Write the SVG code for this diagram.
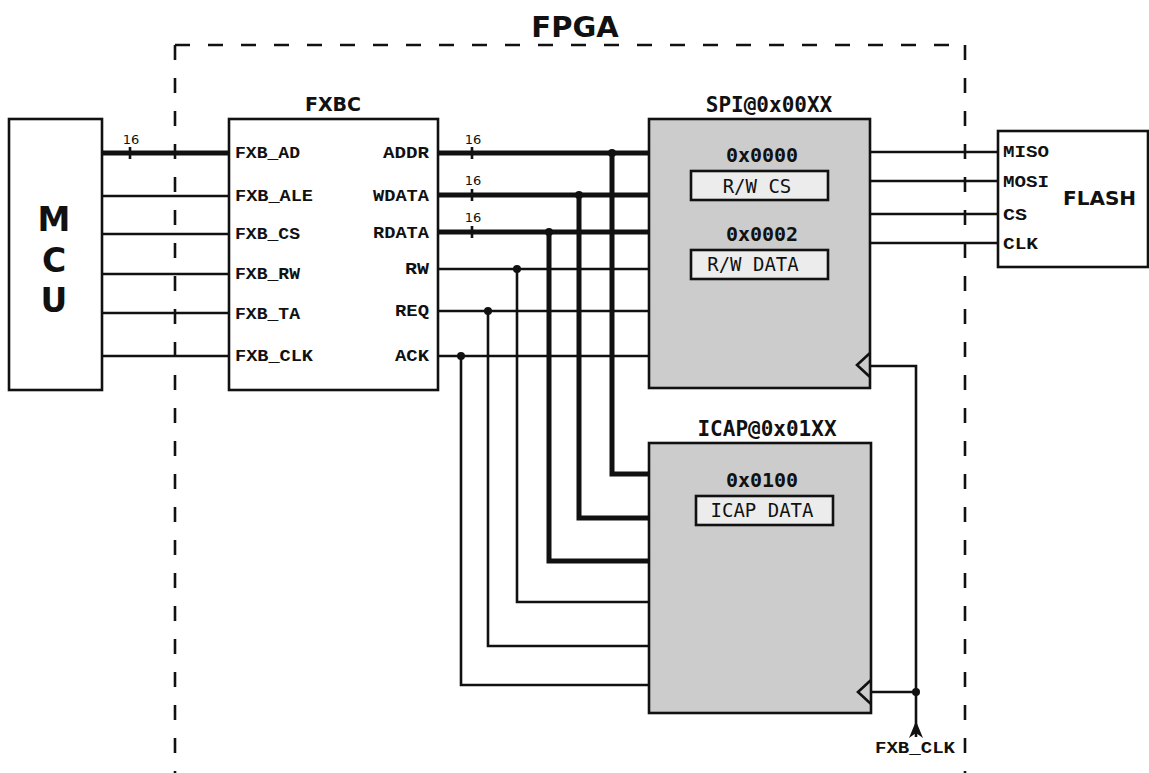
<svg xmlns="http://www.w3.org/2000/svg" width="1149" height="773" viewBox="0 0 1149 773">
<defs>
<style>
.box{fill:#fff;stroke:#111;stroke-width:2.6}
.blk{fill:#ccc;stroke:#111;stroke-width:2.6}
.reg{fill:#ececec;stroke:#111;stroke-width:2.6}
.w{fill:none;stroke:#111;stroke-width:2.6}
.bus{fill:none;stroke:#111;stroke-width:5}
.dash{fill:none;stroke:#111;stroke-width:2.6;stroke-dasharray:15 18}
.pin{font-family:"Liberation Mono",monospace;font-weight:bold;font-size:16px;fill:#111}
.title{font-family:"DejaVu Sans Mono",monospace;font-weight:bold;fill:#111}
.regt{font-family:"DejaVu Sans Mono",monospace;font-size:19px;fill:#111}
.big{font-family:"DejaVu Sans",sans-serif;font-weight:bold;fill:#111}
.num{font-family:"DejaVu Sans",sans-serif;font-size:13px;fill:#111}
.dot{fill:#111}
</style>
</defs>
<g id="fpga">
<path class="dash" d="M175,45 H965 M175,45 V773 M965,45 V773"/>
<text class="big" x="575" y="37" font-size="29" text-anchor="middle">FPGA</text>
</g>
<g id="mcu">
<rect class="box" x="9" y="119" width="93" height="271"/>
<text class="big" x="54" y="231" font-size="33" text-anchor="middle">M</text>
<text class="big" x="54" y="272" font-size="33" text-anchor="middle">C</text>
<text class="big" x="54" y="312" font-size="33" text-anchor="middle">U</text>
</g>
<g id="fxbc">
<rect class="box" x="229" y="119" width="209" height="271"/>
<text class="big" x="333" y="111" font-size="19" text-anchor="middle">FXBC</text>
<text class="pin" x="235" y="158" textLength="65" lengthAdjust="spacingAndGlyphs">FXB_AD</text>
<text class="pin" x="235" y="201" textLength="78" lengthAdjust="spacingAndGlyphs">FXB_ALE</text>
<text class="pin" x="235" y="239" textLength="65" lengthAdjust="spacingAndGlyphs">FXB_CS</text>
<text class="pin" x="235" y="279" textLength="65" lengthAdjust="spacingAndGlyphs">FXB_RW</text>
<text class="pin" x="235" y="319" textLength="65" lengthAdjust="spacingAndGlyphs">FXB_TA</text>
<text class="pin" x="235" y="361" textLength="78" lengthAdjust="spacingAndGlyphs">FXB_CLK</text>
<text class="pin" x="429" y="158" text-anchor="end" textLength="46" lengthAdjust="spacingAndGlyphs">ADDR</text>
<text class="pin" x="429" y="201" text-anchor="end" textLength="56" lengthAdjust="spacingAndGlyphs">WDATA</text>
<text class="pin" x="429" y="238" text-anchor="end" textLength="56" lengthAdjust="spacingAndGlyphs">RDATA</text>
<text class="pin" x="429" y="274" text-anchor="end" textLength="24" lengthAdjust="spacingAndGlyphs">RW</text>
<text class="pin" x="429" y="316" text-anchor="end" textLength="34" lengthAdjust="spacingAndGlyphs">REQ</text>
<text class="pin" x="429" y="361" text-anchor="end" textLength="34" lengthAdjust="spacingAndGlyphs">ACK</text>
</g>
<g id="spi">
<rect class="blk" x="649" y="119" width="221" height="269"/>
<text class="title" x="769" y="112" font-size="21" text-anchor="middle">SPI@0x00XX</text>
<text class="title" x="762" y="162" font-size="20" text-anchor="middle">0x0000</text>
<rect class="reg" x="691" y="171" width="137" height="29"/>
<text class="regt" x="757" y="193" text-anchor="middle">R/W CS</text>
<text class="title" x="762" y="241" font-size="20" text-anchor="middle">0x0002</text>
<rect class="reg" x="691" y="250" width="137" height="29"/>
<text class="regt" x="753" y="271" text-anchor="middle">R/W DATA</text>
<path class="w" d="M870,353 L857,365 L870,377"/>
</g>
<g id="icap">
<rect class="blk" x="649" y="443" width="222" height="270"/>
<text class="title" x="767" y="436" font-size="21" text-anchor="middle">ICAP@0x01XX</text>
<text class="title" x="762" y="487" font-size="20" text-anchor="middle">0x0100</text>
<rect class="reg" x="696" y="496" width="137" height="29"/>
<text class="regt" x="762" y="517" text-anchor="middle">ICAP DATA</text>
<path class="w" d="M871,680 L858,692 L871,704"/>
</g>
<g id="flash">
<rect class="box" x="998" y="131" width="150" height="136"/>
<text class="big" x="1063" y="205" font-size="20">FLASH</text>
<text class="pin" x="1003" y="157" textLength="46" lengthAdjust="spacingAndGlyphs">MISO</text>
<text class="pin" x="1003" y="187" textLength="46" lengthAdjust="spacingAndGlyphs">MOSI</text>
<text class="pin" x="1003" y="220" textLength="24" lengthAdjust="spacingAndGlyphs">CS</text>
<text class="pin" x="1003" y="249" textLength="35" lengthAdjust="spacingAndGlyphs">CLK</text>
</g>
<g id="connectors">
<path class="bus" d="M102,153 H229"/>
<path class="w" d="M102,196 H229 M102,234 H229 M102,274 H229 M102,313 H229 M102,356 H229"/>
<path class="w" d="M130,147 V159"/>
<text class="num" x="131" y="144" text-anchor="middle">16</text>
<path class="bus" d="M438,153 H649 M438,195 H649 M438,232 H649"/>
<path class="w" d="M438,269 H649 M438,311 H649 M438,356 H649"/>
<path class="w" d="M472,147 V159 M472,189 V201 M472,226 V238"/>
<text class="num" x="473" y="144" text-anchor="middle">16</text>
<text class="num" x="473" y="185" text-anchor="middle">16</text>
<text class="num" x="473" y="222" text-anchor="middle">16</text>
<path class="bus" d="M612,153 V474 H649 M579,195 V518 H649 M549,232 V561 H649"/>
<path class="w" d="M517,269 V602 H649 M488,311 V646 H649 M461,356 V685 H649"/>
<circle class="dot" cx="612" cy="153" r="4"/>
<circle class="dot" cx="579" cy="195" r="4"/>
<circle class="dot" cx="549" cy="232" r="4"/>
<circle class="dot" cx="517" cy="269" r="4"/>
<circle class="dot" cx="488" cy="311" r="4"/>
<circle class="dot" cx="461" cy="356" r="4"/>
<path class="w" d="M870,152 H998 M870,181 H998 M870,214 H998 M870,243 H998"/>
<path class="w" d="M870,366 H916 V692 H871"/>
<path class="w" d="M916,692 V737"/>
<path d="M916,721 L923,738 L916,733 L909,738 Z" fill="#111"/>
<circle class="dot" cx="916" cy="692" r="4"/>
<text class="pin" x="875" y="753" textLength="80" lengthAdjust="spacingAndGlyphs">FXB_CLK</text>
</g>
</svg>
